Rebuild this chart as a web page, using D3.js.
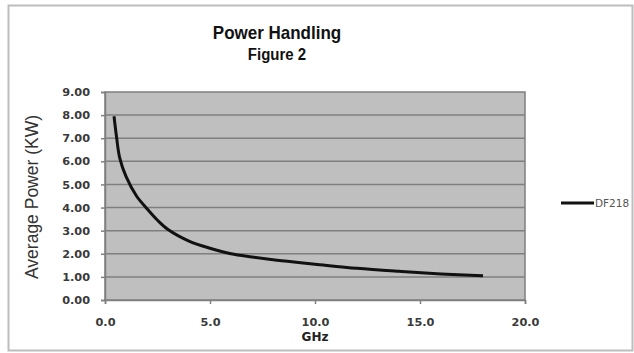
<!DOCTYPE html>
<html><head><meta charset="utf-8">
<script src="https://cdn.jsdelivr.net/npm/d3@7"></script>
<style>body{margin:0;background:#fff}svg{display:block}</style>
</head><body>
<script>
const freqGHz = [0.43, 0.55, 0.7, 1.0, 1.5, 2.0, 2.5, 3.0, 4.0, 5.0, 6.0, 7.0, 8.0, 9.0, 10.0, 12.0, 14.0, 16.0, 18.0];
const powerKW = [7.95, 7.05, 6.15, 5.35, 4.5, 3.95, 3.45, 3.05, 2.55, 2.24, 2.0, 1.86, 1.74, 1.64, 1.55, 1.37, 1.24, 1.13, 1.05];
const xTicks = [0, 5, 10, 15, 20];
const yTicks = [0, 1, 2, 3, 4, 5, 6, 7, 8, 9];
const seriesName = "DF218";
const title1 = "Power Handling", title2 = "Figure 2";
const xLabel = "GHz", yLabel = "Average Power (KW)";

const W = 634, H = 353;
const svg = d3.select("body").append("svg").attr("width", W).attr("height", H);
svg.append("rect").attr("x", 8.5).attr("y", 5.5).attr("width", 624).attr("height", 345)
  .attr("fill", "#fff").attr("stroke", "#bdbdbd").attr("stroke-width", 2);

const L = 105, R = 525, T = 92, B = 300;
const x = d3.scaleLinear().domain([0, 20]).range([L, R]);
const y = d3.scaleLinear().domain([0, 9]).range([B, T]);

svg.append("rect").attr("x", L).attr("y", T).attr("width", R - L).attr("height", B - T)
  .attr("fill", "#bfbfbf");
svg.append("g").selectAll("line").data(yTicks.filter(d => d > 0 && d < 9)).join("line")
  .attr("x1", L).attr("x2", R).attr("y1", d => y(d)).attr("y2", d => y(d))
  .attr("stroke", "#7f7f7f").attr("stroke-width", 1.5);
svg.append("rect").attr("x", L).attr("y", T).attr("width", R - L).attr("height", B - T)
  .attr("fill", "none").attr("stroke", "#7f7f7f").attr("stroke-width", 1.5);

const yAxis = svg.append("g").attr("transform", `translate(${L},0)`)
  .call(d3.axisLeft(y).tickValues(yTicks).tickFormat(d3.format(".2f")).tickSize(4).tickPadding(11));
const xAxis = svg.append("g").attr("transform", `translate(0,${B})`)
  .call(d3.axisBottom(x).tickValues(xTicks).tickFormat(d3.format(".1f")).tickSize(4).tickPadding(14));
[yAxis, xAxis].forEach(g => {
  g.select(".domain").attr("stroke", "#7f7f7f").attr("stroke-width", 1.5);
  g.selectAll(".tick line").attr("stroke", "#7f7f7f").attr("stroke-width", 1.5);
  g.selectAll("text").attr("font-family", "DejaVu Sans").attr("font-weight", "bold")
    .attr("font-size", 11.3).attr("fill", "#3a3a3a");
});

const line = d3.line().x((d, i) => x(freqGHz[i])).y(d => y(d)).curve(d3.curveCatmullRom.alpha(0.5));
svg.append("path").datum(powerKW).attr("d", line).attr("fill", "none")
  .attr("stroke", "#111").attr("stroke-width", 3).attr("stroke-linecap", "butt");

svg.append("text").attr("transform", "translate(277,39) scale(1,1.1)").attr("text-anchor", "middle")
  .attr("font-family", "Liberation Sans, Arial").attr("font-weight", "bold").attr("font-size", 17)
  .attr("fill", "#111").text(title1);
svg.append("text").attr("transform", "translate(277,60) scale(1,1.15)").attr("text-anchor", "middle")
  .attr("font-family", "Liberation Sans, Arial").attr("font-weight", "bold").attr("font-size", 15)
  .attr("fill", "#111").text(title2);

svg.append("text").attr("transform", `translate(38,197) rotate(-90)`).attr("text-anchor", "middle")
  .attr("font-family", "Liberation Sans, Arial").attr("font-size", 17.5).attr("fill", "#333").text(yLabel);
svg.append("text").attr("x", 315).attr("y", 341).attr("text-anchor", "middle")
  .attr("font-family", "DejaVu Sans").attr("font-weight", "bold").attr("font-size", 12)
  .attr("fill", "#222").text(xLabel);

svg.append("line").attr("x1", 561).attr("x2", 594).attr("y1", 203).attr("y2", 203)
  .attr("stroke", "#111").attr("stroke-width", 3);
svg.append("text").attr("x", 595).attr("y", 207).attr("font-family", "DejaVu Sans")
  .attr("font-size", 10.5).attr("fill", "#555").text(seriesName);
</script>
</body></html>
